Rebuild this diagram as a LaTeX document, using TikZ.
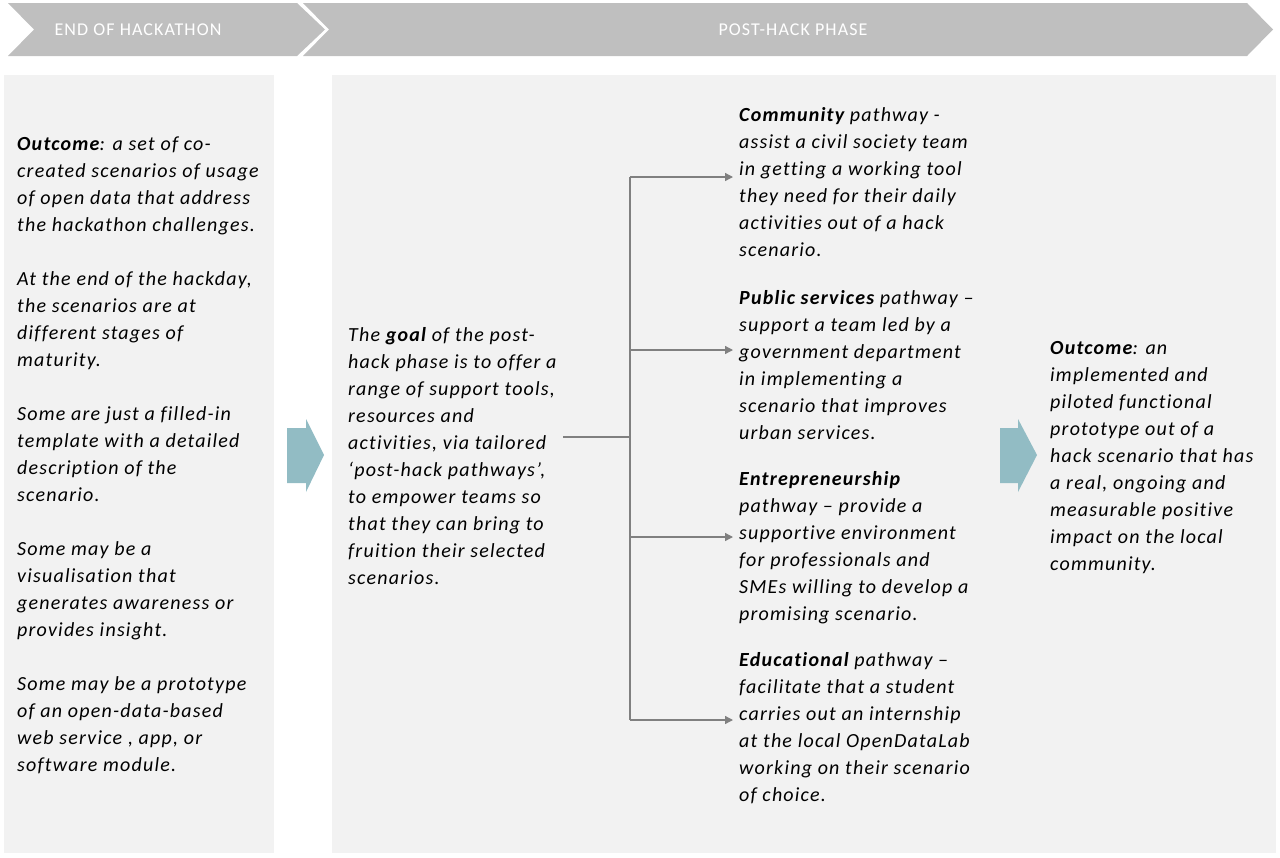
\documentclass[tikz,border=0pt]{standalone}
\usepackage{fontspec}
\setmainfont{Carlito}[LetterSpace=6,Ligatures=NoCommon]
\usetikzlibrary{arrows.meta}
\definecolor{hdr}{HTML}{BFBFBF}
\definecolor{panel}{HTML}{F2F2F2}
\definecolor{teal}{RGB}{146,188,196}
\definecolor{conn}{HTML}{808080}
\begin{document}
\begin{tikzpicture}[x=1pt,y=-1pt,
  hdrtext/.style={text=white,font={\fontsize{18}{22}\selectfont},inner sep=0},
  body/.style={anchor=north west,inner sep=0,align=left,font={\fontsize{20}{27}\selectfont\itshape}},
  connline/.style={draw=conn,line width=1.3pt},
  connarrow/.style={connline,-{Triangle[length=8pt,width=8pt]},shorten >=6pt}
]
\useasboundingbox (0,0) rectangle (1280,857);
% header chevrons
\fill[hdr] (8,3) -- (297,3) -- (325,29.5) -- (297,56) -- (8,56) -- (34,29.5) -- cycle;
\fill[hdr] (303,3) -- (1247,3) -- (1273,29.5) -- (1247,56) -- (303,56) -- (329,29.5) -- cycle;
\node[hdrtext] (h1) at (138,30) {END OF HACKATHON};
\node[hdrtext] (h2) at (793,30) {POST-HACK PHASE};
% panels
\fill[panel] (4,75) rectangle (274,853);
\fill[panel] (332,75) rectangle (1276,853);
% teal arrows
\fill[teal] (287,428) -- (306,428) -- (306,419) -- (324,455) -- (306,492) -- (306,483) -- (287,483) -- cycle;
\fill[teal] (1000,428) -- (1018,428) -- (1018,419) -- (1037,455) -- (1018,492) -- (1018,483) -- (1000,483) -- cycle;
% texts
\node[body] (left) at (17,130) {\rule{0pt}{20pt}\textbf{Outcome}: a set of co-\\
created scenarios of usage\\
of open data that address\\
the hackathon challenges.\\[27pt]
At the end of the hackday,\\
the scenarios are at\\
different stages of\\
maturity.\\[27pt]
Some are just a filled-in\\
template with a detailed\\
description of the\\
scenario.\\[27pt]
Some may be a\\
visualisation that\\
generates awareness or\\
provides insight.\\[27pt]
Some may be a prototype\\
of an open-data-based\\
web service , app, or\\
software module.};
\node[body] (goal) at (348,321) {\rule{0pt}{20pt}The \textbf{goal} of the post-\\
hack phase is to offer a\\
range of support tools,\\
resources and\\
activities, via tailored\\
‘post-hack pathways’,\\
to empower teams so\\
that they can bring to\\
fruition their selected\\
scenarios.};
\node[body] (comm) at (739,101) {\rule{0pt}{20pt}\textbf{Community} pathway -\\
assist a civil society team\\
in getting a working tool\\
they need for their daily\\
activities out of a hack\\
scenario.};
\node[body] (pub) at (739,284) {\rule{0pt}{20pt}\textbf{Public services} pathway –\\
support a team led by a\\
government department\\
in implementing a\\
scenario that improves\\
urban services.};
\node[body] (ent) at (739,465) {\rule{0pt}{20pt}\textbf{Entrepreneurship}\\
pathway – provide a\\
supportive environment\\
for professionals and\\
SMEs willing to develop a\\
promising scenario.};
\node[body] (edu) at (739,646) {\rule{0pt}{20pt}\textbf{Educational} pathway –\\
facilitate that a student\\
carries out an internship\\
at the local OpenDataLab\\
working on their scenario\\
of choice.};
\node[body] (out) at (1050,334) {\rule{0pt}{20pt}\textbf{Outcome}: an\\
implemented and\\
piloted functional\\
prototype out of a\\
hack scenario that has\\
a real, ongoing and\\
measurable positive\\
impact on the local\\
community.};
% connectors
\coordinate (gstart) at (563,437);
\coordinate (hub) at (630,437);
\coordinate (b1) at (630,177);
\coordinate (b2) at (630,350);
\coordinate (b3) at (630,537);
\coordinate (b4) at (630,720);
\draw[connline] (gstart) -- (hub);
\draw[connline] (b1) -- (b4);
\draw[connarrow] (b1) -- (b1 -| comm.west);
\draw[connarrow] (b2) -- (b2 -| pub.west);
\draw[connarrow] (b3) -- (b3 -| ent.west);
\draw[connarrow] (b4) -- (b4 -| edu.west);
\end{tikzpicture}
\end{document}
